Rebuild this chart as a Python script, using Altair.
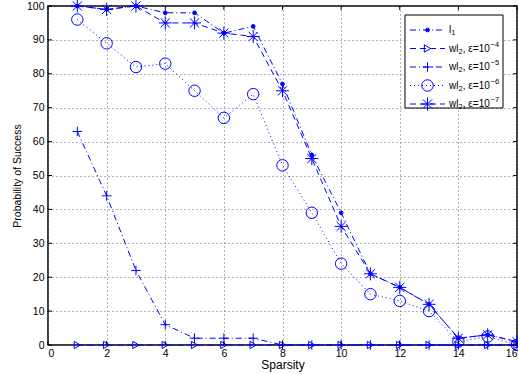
import altair as alt
import pandas as pd

# Sparsity levels (x axis)
sparsity = list(range(1, 17))

# Probability of success (%) for each method
l1 = [100, 99, 100, 98, 98, 92, 94, 77, 56, 39, 21, 17, 12, 2, 3, 1]
wl2_e4 = [0, 0, 0, 0, 0, 0, 0, 0, 0, 0, 0, 0, 0, 0, 0, 0]
wl2_e5 = [63, 44, 22, 6, 2, 2, 2, 0, 0, 0, 0, 0, 0, 0, 0, 0]
wl2_e6 = [96, 89, 82, 83, 75, 67, 74, 53, 39, 24, 15, 13, 10, 1, 2.5, 0]
wl2_e7 = [100, 99, 100, 95, 95, 92, 91, 75, 55, 35, 21, 17, 12, 2, 3, 1]

series_names = ["l1", "wl2 e-4", "wl2 e-5", "wl2 e-6", "wl2 e-7"]
series_values = [l1, wl2_e4, wl2_e5, wl2_e6, wl2_e7]

# legend label pieces: base text, subscript, middle text, superscript
label_base = ["l", "wl", "wl", "wl", "wl"]
label_sub = ["1", "2", "2", "2", "2"]
label_mid = ["", ", ε=10", ", ε=10", ", ε=10", ", ε=10"]
label_sup = ["", "−4", "−5", "−6", "−7"]

x_ticks = list(range(0, 17, 2))
y_ticks = list(range(0, 101, 10))

rows = []
for name, vals in zip(series_names, series_values):
    for s, v in zip(sparsity, vals):
        rows.append({"sparsity": s, "success": v, "series": name})
df = pd.DataFrame(rows)

BLUE = "#0000ff"
FONT = "Liberation Sans"
W, H = 469, 339

# line style / marker per series
dash_scale = alt.Scale(
    domain=series_names,
    range=[[6, 3, 1, 3], [6, 4], [6, 3, 1, 3], [1, 3], [6, 4]],
)
PLUS = "M-1,0H1M0,-1V1"
STAR = "M-1,0H1M0,-1V1M-0.7,-0.7L0.7,0.7M-0.7,0.7L0.7,-0.7"
shape_scale = alt.Scale(
    domain=series_names,
    range=["circle", "triangle-right", PLUS, "circle", STAR],
)
size_scale = alt.Scale(domain=series_names, range=[14, 170, 150, 125, 150])
fill_scale = alt.Scale(
    domain=series_names,
    range=[BLUE, "transparent", "transparent", "transparent", "transparent"],
)

axis_common = dict(
    grid=True, domain=False, tickSize=0, labelOverlap=False,
    labelFontSize=10.5, labelFont=FONT, labelColor="#000",
    titleFont=FONT, titleFontWeight="normal", titleColor="#000",
    titleBaseline="middle", titleAlign="center",
    gridColor="#666", gridDash=[1, 3], gridWidth=1,
)

x_enc = alt.X(
    "sparsity:Q",
    scale=alt.Scale(domain=[0, 16], nice=False),
    axis=alt.Axis(
        values=x_ticks, tickCount=len(x_ticks), title="Sparsity", labelPadding=3,
        titleFontSize=12, titleX=234.5, titleY=19, **axis_common,
    ),
)
y_enc = alt.Y(
    "success:Q",
    scale=alt.Scale(domain=[0, 100], nice=False),
    axis=alt.Axis(
        values=y_ticks, tickCount=len(y_ticks), title="Probability of Success",
        labelPadding=4, titleFontSize=10.5, titleX=-31, titleY=169.5,
        titleAngle=-90, **axis_common,
    ),
)

base = alt.Chart(df).encode(x=x_enc, y=y_enc)

lines = base.mark_line(color=BLUE, strokeWidth=1, clip=False).encode(
    detail="series:N",
    strokeDash=alt.StrokeDash("series:N", scale=dash_scale, legend=None),
)

points = base.mark_point(color=BLUE, strokeWidth=1, opacity=1, clip=False).encode(
    shape=alt.Shape("series:N", scale=shape_scale, legend=None),
    size=alt.Size("series:N", scale=size_scale, legend=None),
    fill=alt.Fill("series:N", scale=fill_scale, legend=None),
)

# short inward tick marks along all four sides of the frame
xt_df = pd.DataFrame({"sparsity": x_ticks})
yt_df = pd.DataFrame({"success": y_ticks})
tick_len = 4
ticks_bottom = alt.Chart(xt_df).mark_rule(color="#000", strokeWidth=1).encode(
    x="sparsity:Q", y=alt.value(H - tick_len), y2=alt.value(H))
ticks_top = alt.Chart(xt_df).mark_rule(color="#000", strokeWidth=1).encode(
    x="sparsity:Q", y=alt.value(0), y2=alt.value(tick_len))
ticks_left = alt.Chart(yt_df).mark_rule(color="#000", strokeWidth=1).encode(
    y="success:Q", x=alt.value(0), x2=alt.value(tick_len))
ticks_right = alt.Chart(yt_df).mark_rule(color="#000", strokeWidth=1).encode(
    y="success:Q", x=alt.value(W - tick_len), x2=alt.value(W))

# legend box in the upper-right corner
legend_df = pd.DataFrame({
    "series": series_names,
    "base": label_base,
    "sub": label_sub,
    "mid": label_mid,
    "sup": label_sup,
    "py": [24 + 18.5 * i for i in range(len(series_names))],
})
# horizontal offsets of the label pieces (Helvetica metrics)
legend_df["sub_x"] = [401.0 + (2.2 if b == "l" else 9.6) for b in label_base]
legend_df["mid_x"] = legend_df["sub_x"] + 4.2
legend_df["sup_x"] = legend_df["mid_x"] + 27.8

legend_box = alt.Chart(legend_df).mark_rect(
    fill="white", stroke="black", strokeWidth=1
).encode(
    x=alt.value(357), x2=alt.value(455), y=alt.value(9), y2=alt.value(102)
).transform_filter(alt.datum.series == series_names[0])

legend_lines = alt.Chart(legend_df).mark_rule(color=BLUE, strokeWidth=1).encode(
    x=alt.value(362), x2=alt.value(397),
    y=alt.Y("py:Q", scale=None),
    strokeDash=alt.StrokeDash("series:N", scale=dash_scale, legend=None),
)
legend_points = alt.Chart(legend_df).mark_point(color=BLUE, strokeWidth=1, opacity=1).encode(
    x=alt.value(379.5),
    y=alt.Y("py:Q", scale=None),
    shape=alt.Shape("series:N", scale=shape_scale, legend=None),
    size=alt.Size("series:N", scale=size_scale, legend=None),
    fill=alt.Fill("series:N", scale=fill_scale, legend=None),
)
legend_base = alt.Chart(legend_df).mark_text(
    align="left", baseline="middle", font=FONT, fontSize=10, color="#000"
).encode(x=alt.value(401), y=alt.Y("py:Q", scale=None), text="base:N")
legend_sub = alt.Chart(legend_df).mark_text(
    align="left", baseline="middle", font=FONT, fontSize=7.5, color="#000", dy=3
).encode(x=alt.X("sub_x:Q", scale=None), y=alt.Y("py:Q", scale=None), text="sub:N")
legend_mid = alt.Chart(legend_df).mark_text(
    align="left", baseline="middle", font=FONT, fontSize=10, color="#000"
).encode(x=alt.X("mid_x:Q", scale=None), y=alt.Y("py:Q", scale=None), text="mid:N")
legend_sup = alt.Chart(legend_df).mark_text(
    align="left", baseline="middle", font=FONT, fontSize=7.5, color="#000", dy=-4
).encode(x=alt.X("sup_x:Q", scale=None), y=alt.Y("py:Q", scale=None), text="sup:N")

chart = alt.layer(
    lines, points, ticks_bottom, ticks_top, ticks_left, ticks_right,
    legend_box, legend_lines, legend_points,
    legend_base, legend_sub, legend_mid, legend_sup,
).properties(
    width=W,
    height=H,
    autosize=alt.AutoSizeParams(type="none"),
    padding={"left": 48, "top": 6, "right": 1, "bottom": 29},
    background="white",
).configure_view(
    stroke="black", strokeWidth=1.5
)

chart.save("out.html", embed_options={"renderer": "svg", "actions": False})
